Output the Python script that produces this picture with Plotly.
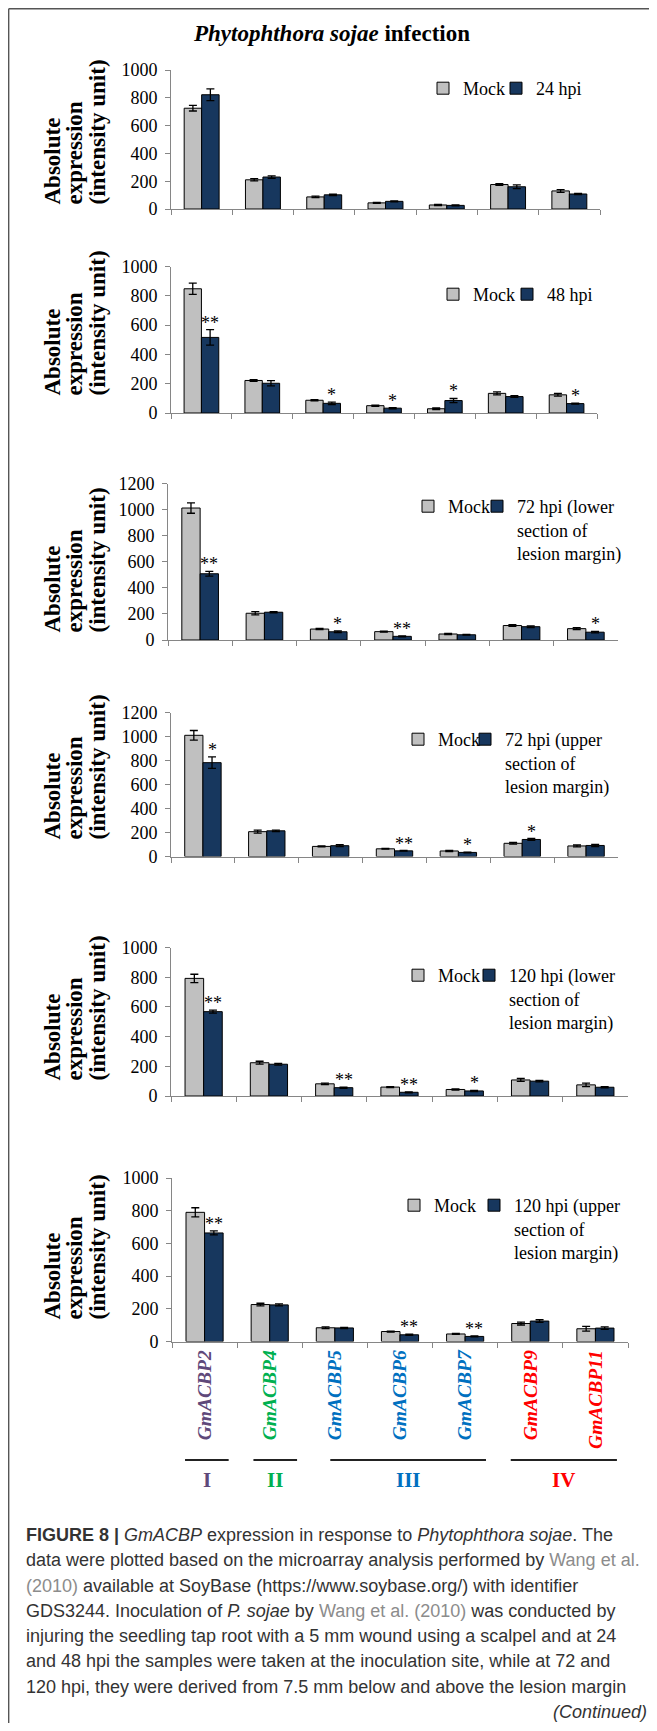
import plotly.graph_objects as go

# The page body adds an 8px margin around the figure; the figure is sized and
# offset so that the photographed window (657x1731) lines up with the reference.
PAGE_W, PAGE_H, OFF = 657, 1731, 8
FW, FH = PAGE_W - 2 * OFF, PAGE_H - 2 * OFF

genes = ["GmACBP2", "GmACBP4", "GmACBP5", "GmACBP6", "GmACBP7", "GmACBP9", "GmACBP11"]
gene_groups = ["I", "II", "III", "III", "III", "IV", "IV"]

treat_names = ["24 hpi", "48 hpi", "72 hpi (lower<br>section of<br>lesion margin)",
               "72 hpi (upper<br>section of<br>lesion margin)",
               "120 hpi (lower<br>section of<br>lesion margin)",
               "120 hpi (upper<br>section of<br>lesion margin)"]

mock_24 = [725, 210, 87, 44, 29, 176, 130]
mock_24_err = [20, 8, 5, 4, 4, 6, 10]
hpi_24 = [822, 230, 102, 55, 26, 160, 108]
hpi_24_err = [42, 9, 5, 4, 4, 14, 5]
sig_24 = ["", "", "", "", "", "", ""]

mock_48 = [848, 222, 87, 50, 29, 134, 124]
mock_48_err = [38, 6, 4, 4, 5, 10, 9]
hpi_48 = [516, 203, 66, 33, 85, 112, 64]
hpi_48_err = [53, 18, 8, 4, 14, 6, 4]
sig_48 = ["**", "", "*", "*", "*", "", "*"]

mock_72l = [1012, 205, 84, 64, 46, 111, 87]
mock_72l_err = [40, 12, 4, 3, 5, 7, 8]
hpi_72l = [508, 213, 63, 28, 40, 102, 60]
hpi_72l_err = [18, 5, 6, 3, 3, 6, 6]
sig_72l = ["**", "", "*", "**", "", "", "*"]

mock_72u = [1010, 207, 84, 64, 46, 110, 88]
mock_72u_err = [40, 12, 4, 3, 5, 7, 8]
hpi_72u = [782, 214, 90, 47, 34, 142, 92]
hpi_72u_err = [48, 6, 8, 3, 3, 8, 9]
sig_72u = ["*", "", "", "**", "*", "*", ""]

mock_120l = [792, 224, 82, 60, 44, 108, 75]
mock_120l_err = [28, 10, 5, 3, 4, 10, 12]
hpi_120l = [568, 214, 56, 25, 34, 100, 59]
hpi_120l_err = [10, 6, 4, 3, 4, 5, 4]
sig_120l = ["**", "", "**", "**", "*", "", ""]

mock_120u = [790, 226, 84, 61, 46, 110, 78]
mock_120u_err = [28, 8, 5, 3, 3, 9, 14]
hpi_120u = [664, 224, 83, 41, 31, 125, 82]
hpi_120u_err = [12, 6, 4, 4, 3, 8, 8]
sig_120u = ["**", "", "", "**", "**", "", ""]

y_max = [1000, 1000, 1200, 1200, 1000, 1000]

panels_data = [
    (mock_24, mock_24_err, hpi_24, hpi_24_err, sig_24),
    (mock_48, mock_48_err, hpi_48, hpi_48_err, sig_48),
    (mock_72l, mock_72l_err, hpi_72l, hpi_72l_err, sig_72l),
    (mock_72u, mock_72u_err, hpi_72u, hpi_72u_err, sig_72u),
    (mock_120l, mock_120l_err, hpi_120l, hpi_120l_err, sig_120l),
    (mock_120u, mock_120u_err, hpi_120u, hpi_120u_err, sig_120u),
]

# ---------------- layout (pixel geometry, in page pixels) ----------------
boxes = [(171, 600, 70, 209), (171, 597, 266.5, 413), (168, 618, 483.5, 640),
         (171, 618, 712.5, 856.5), (171, 628, 947.5, 1096), (172, 628, 1178, 1341.5)]
ytitle_bottom = [207, 398, 635, 842, 1083, 1322]
# legend: x of "Mock" text, x of treatment text, centre y of first line
legend_pos = [(463, 536, 90), (473, 547, 296), (448, 517, 508), (438, 505, 741),
              (438, 509, 977), (434, 514, 1207)]

group_colors = {"I": "#5F497A", "II": "#00B050", "III": "#0070C0", "IV": "#FF0000"}
MOCK_COLOR = "#C0C0C0"
TREAT_COLOR = "#17375E"
AXIS_COLOR = "#868686"
SERIF = "Liberation Serif"
BARGAP = 0.43


def px(x):
    return (x - OFF) / FW


def py(y):
    return 1 - (y - OFF) / FH


fig = go.Figure()
annotations = []
shapes = []
layout = dict(width=FW, height=FH, margin=dict(l=0, r=0, t=0, b=0, autoexpand=False),
              paper_bgcolor="white", plot_bgcolor="white", showlegend=True,
              barmode="group", bargap=BARGAP, bargroupgap=0,
              font=dict(family=SERIF, size=18, color="black"))

for i, ((m, me, t, te, sig), (L, R, T, B)) in enumerate(zip(panels_data, boxes)):
    n = i + 1
    sfx = "" if n == 1 else str(n)
    leg_m = "legend" if n == 1 else "legend%d" % (2 * n - 1)
    leg_t = "legend%d" % (2 * n)
    fig.add_trace(go.Bar(x=genes, y=m, name="Mock", xaxis="x" + sfx, yaxis="y" + sfx,
                         legend=leg_m, showlegend=True,
                         marker=dict(color=MOCK_COLOR, line=dict(color="black", width=1)),
                         error_y=dict(type="data", array=me, visible=True, color="black",
                                      thickness=1.3, width=4)))
    fig.add_trace(go.Bar(x=genes, y=t, name=treat_names[i], xaxis="x" + sfx, yaxis="y" + sfx,
                         legend=leg_t, showlegend=True,
                         marker=dict(color=TREAT_COLOR, line=dict(color="black", width=1)),
                         error_y=dict(type="data", array=te, visible=True, color="black",
                                      thickness=1.3, width=4)))
    last = (n == 6)
    ticktext = ["<b><i><span style='color:%s'>%s</span></i></b>" % (group_colors[g], name)
                for name, g in zip(genes, gene_groups)]
    layout["xaxis" + sfx] = dict(domain=[px(L), px(R)], anchor="y" + sfx, type="category",
                                 categoryorder="array", categoryarray=genes,
                                 showline=True, linecolor=AXIS_COLOR, linewidth=1,
                                 ticks="outside", tickson="boundaries", ticklen=5,
                                 tickcolor=AXIS_COLOR, showgrid=False, zeroline=False,
                                 showticklabels=last, tickangle=-90, automargin=False,
                                 tickvals=genes, ticktext=ticktext,
                                 tickfont=dict(family=SERIF, size=19.5))
    layout["yaxis" + sfx] = dict(domain=[py(B), py(T)], anchor="x" + sfx,
                                 range=[0, y_max[i]], dtick=200, showline=True,
                                 linecolor=AXIS_COLOR, linewidth=1, ticks="outside",
                                 ticklen=5, tickcolor=AXIS_COLOR, showgrid=False,
                                 zeroline=False, ticklabelstandoff=4, automargin=False,
                                 tickfont=dict(family=SERIF, size=18, color="black"))
    xm, xt, yc = legend_pos[i]
    for key, xx in ((leg_m, xm), (leg_t, xt)):
        layout[key] = dict(orientation="h", x=px(xx - 40), y=py(yc - 20), xanchor="left",
                           yanchor="top", bgcolor="rgba(0,0,0,0)", valign="top",
                           visible=True,
                           font=dict(family=SERIF, size=18, color="black"))
    for gi, s in enumerate(sig):
        if s:
            annotations.append(dict(x=gi + (1 - BARGAP) / 4, y=t[gi] + te[gi],
                                    xref="x" + sfx, yref="y" + sfx, text=s,
                                    showarrow=False, yanchor="bottom", yshift=-5,
                                    font=dict(family=SERIF, size=18, color="black")))
    for line, xc in zip(["Absolute", "expression", "(intensity unit)"], [52, 74, 97]):
        annotations.append(dict(x=px(xc), y=py(ytitle_bottom[i]), xref="paper", yref="paper",
                                text="<b>%s</b>" % line, textangle=-90, showarrow=False,
                                xanchor="center", yanchor="bottom",
                                font=dict(family=SERIF, size=23, color="black")))

annotations.append(dict(x=px(331), y=py(33), xref="paper", yref="paper",
                        text="<b><i>Phytophthora sojae</i> infection</b>", showarrow=False,
                        xanchor="center", yanchor="middle",
                        font=dict(family=SERIF, size=23, color="black")))

group_spans = [("I", -0.3, 0.37), ("II", 0.75, 1.42), ("III", 1.93, 4.32), ("IV", 4.7, 6.33)]
for g, a, b in group_spans:
    shapes.append(dict(type="line", xref="x6", yref="paper", x0=a, x1=b,
                       y0=py(1460), y1=py(1460), line=dict(color="#222222", width=2)))
    annotations.append(dict(x=(a + b) / 2, y=py(1480), xref="x6", yref="paper",
                            text="<b>%s</b>" % g, showarrow=False, xanchor="center",
                            yanchor="middle",
                            font=dict(family=SERIF, size=21, color=group_colors[g])))

GRAY = "#8C8C8C"
cap = [
    "<b>FIGURE 8 |</b> <i>GmACBP</i> expression in response to <i>Phytophthora sojae</i>. The",
    "data were plotted based on the microarray analysis performed by <span style='color:%s'>Wang et al.</span>" % GRAY,
    "<span style='color:%s'>(2010)</span> available at SoyBase (https://www.soybase.org/) with identifier" % GRAY,
    "GDS3244. Inoculation of <i>P. sojae</i> by <span style='color:%s'>Wang et al. (2010)</span> was conducted by" % GRAY,
    "injuring the seedling tap root with a 5 mm wound using a scalpel and at 24",
    "and 48 hpi the samples were taken at the inoculation site, while at 72 and",
    "120 hpi, they were derived from 7.5 mm below and above the lesion margin",
]
cap_y = [1535, 1560, 1586, 1611, 1636, 1661, 1687]
for txt, yy in zip(cap, cap_y):
    annotations.append(dict(x=px(24), y=py(yy), xref="paper", yref="paper", text=txt,
                            showarrow=False, xanchor="left", yanchor="middle",
                            font=dict(family="Liberation Sans", size=18, color="#333333")))
annotations.append(dict(x=1.0, y=py(1712), xref="paper", yref="paper",
                        text="<i>(Continued)</i>", showarrow=False, xanchor="right",
                        yanchor="middle",
                        font=dict(family="Liberation Sans", size=18, color="#333333")))

shapes.append(dict(type="line", xref="paper", yref="paper", x0=0.001, x1=1.0,
                   y0=0.9995, y1=0.9995, line=dict(color="#555555", width=1.5)))
shapes.append(dict(type="line", xref="paper", yref="paper", x0=0.001, x1=0.001,
                   y0=0.9995, y1=0, line=dict(color="#555555", width=1.5)))

layout["annotations"] = annotations
layout["shapes"] = shapes
fig.update_layout(**layout)
fig.write_html("out.html")
